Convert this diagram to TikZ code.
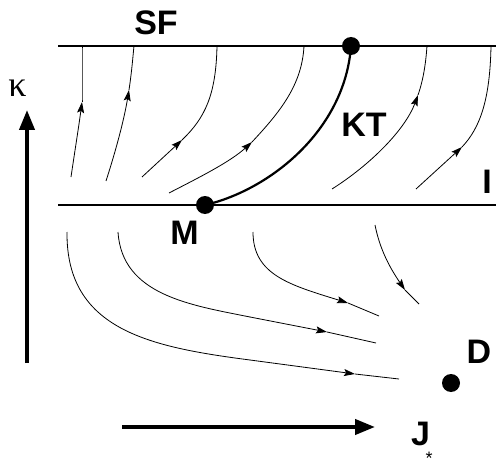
\documentclass[tikz,border=0pt]{standalone}
\usepackage{fontspec}
\setmainfont{Liberation Sans}
\newfontfamily\greekfont{Liberation Serif}
\usetikzlibrary{arrows.meta}
\begin{document}
\begin{tikzpicture}[x=1pt,y=-1pt,
  phase/.style={line width=2.6pt},
  flow/.style={line width=0.8pt},
  flowarrow/.style={line width=0.8pt,-{Stealth[length=11pt,width=7pt,inset=2pt]}},
  axisarrow/.style={line width=4pt,-{Triangle[length=20pt,width=15pt]}},
  fixpt/.style={circle,fill=black,inner sep=0pt,minimum size=18pt},
  lbl/.style={inner sep=0pt,font=\fontsize{34}{34}\selectfont\bfseries}]
\useasboundingbox (0,0) rectangle (496,460);

% phase boundaries
\coordinate (sfl) at (58,46);
\coordinate (sfr) at (496,46);
\coordinate (il) at (58,205);
\coordinate (ir) at (496,205);
\draw[phase] (sfl) -- (sfr);
\draw[phase] (il) -- (ir);

% fixed points
\node[fixpt] (KT) at (351,46) {};
\node[fixpt] (M) at (205,205) {};
\node[fixpt] (D) at (451,383) {};

% KT separatrix
\draw[line width=2.2pt] (M.center) .. controls (270,190) and (345,130) .. (KT.center);

% labels
\node[lbl] (sf) at (156,22.5) {SF};
\node[lbl] (kt) at (364,125) {KT};
\node[lbl] (ilab) at (487,181.5) {I};
\node[lbl] (mlab) at (184.5,232.5) {M};
\node[lbl] (dlab) at (479,351.5) {D};
\node[lbl] (jlab) at (420.5,433.5) {J};
\node[inner sep=0pt,font=\fontsize{18}{18}\selectfont] (star) at (429,454) {\raisebox{-10.3pt}[3pt][3pt]{*}};
\node[inner sep=0pt,font=\fontsize{36}{36}\selectfont\greekfont] (kappa) at (17.5,88.5) {κ};

% axes
\coordinate (kb) at (27,363);
\coordinate (kt) at (27,110);
\coordinate (jl) at (122,427);
\coordinate (jr) at (375,427);
\draw[axisarrow] (kb) -- (kt);
\draw[axisarrow] (jl) -- (jr);

% upper flows (towards SF)
\draw[flowarrow] (71,177) .. controls (75,150) and (79,125) .. (82,102);
\draw[flow] (82,102) .. controls (82,85) and (82,65) .. (82,46);

\draw[flowarrow] (106,181) .. controls (116,150) and (124,120) .. (129,90);
\draw[flow] (129,90) .. controls (132,70) and (133,55) .. (134,46);

\draw[flowarrow] (142,177) -- (182,140);
\draw[flow] (182,140) .. controls (205,118) and (216,95) .. (217,46);

\draw[flowarrow] (169,193) .. controls (200,177) and (230,162) .. (252,142);
\draw[flow] (252,142) .. controls (280,112) and (302,85) .. (304,46);

\draw[flowarrow] (332,189) .. controls (370,165) and (405,130) .. (418,95);
\draw[flow] (418,95) .. controls (424,78) and (426,60) .. (427,46);

\draw[flowarrow] (416,189) -- (462,147);
\draw[flow] (462,147) .. controls (480,128) and (490,100) .. (491,46);

% lower flows (towards D)
\draw[flow] (67,232) .. controls (66,330) and (150,347) .. (250,360);
\draw[flowarrow] (250,360) -- (355,374);
\draw[flow] (355,374) -- (399,379);

\draw[flow] (118,232) .. controls (122,295) and (190,305) .. (250,317);
\draw[flowarrow] (250,317) -- (327,332);
\draw[flow] (327,332) -- (376,343);

\draw[flowarrow] (253,232) .. controls (253,275) and (290,285) .. (348,303);
\draw[flow] (348,303) -- (379,316);

\draw[flowarrow] (375,225) .. controls (380,250) and (390,268) .. (405,290);
\draw[flow] (405,290) -- (419,304);
\end{tikzpicture}
\end{document}
